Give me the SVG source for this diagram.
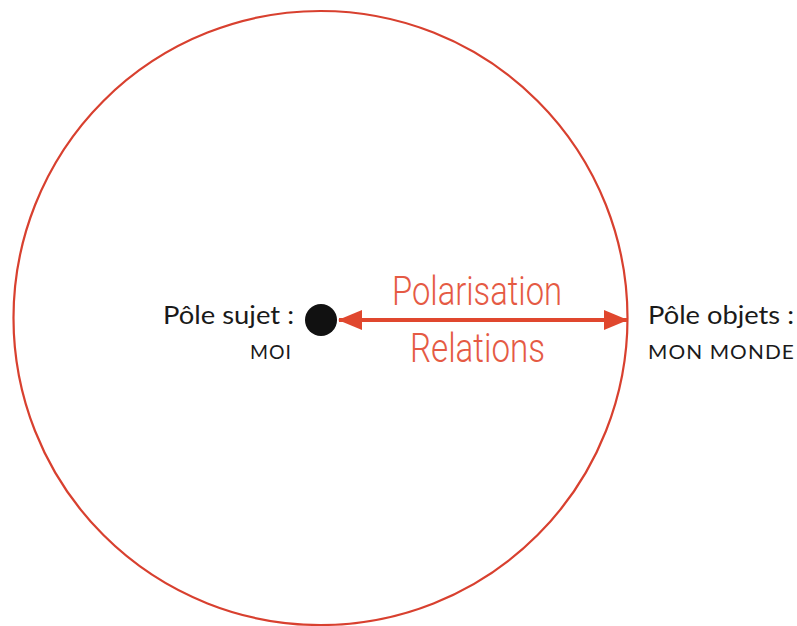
<svg xmlns="http://www.w3.org/2000/svg" width="797" height="626" viewBox="0 0 797 626">
  <style>
    .ring { fill: none; stroke: #d8402f; stroke-width: 2.2; }
    .link { stroke: #e0472e; stroke-width: 4; fill: none; }
    .red { fill: #e55a44; font-family: Roboto, "Liberation Sans", Arial, sans-serif; font-weight: 300; font-size: 41px; }
    .label { fill: #1a1a1a; font-family: Lato, "Open Sans", sans-serif; font-size: 25px; }
    .caps { fill: #1a1a1a; font-family: Lato, "Open Sans", sans-serif; font-size: 19px; letter-spacing: 1px; }
  </style>
  <defs>
    <marker id="head" viewBox="0 0 24 20" refX="23" refY="10" markerWidth="24" markerHeight="20" markerUnits="userSpaceOnUse" orient="auto-start-reverse">
      <path d="M0,0 L24,10 L0,20 Z" fill="#e0472e"/>
    </marker>
  </defs>
  <rect width="797" height="626" fill="#ffffff"/>

  <g id="world">
    <circle class="ring" cx="320.5" cy="318" r="307"/>
  </g>

  <g id="subject">
    <circle cx="321" cy="320" r="16" fill="#111111"/>
    <text class="label" x="163" y="324" textLength="131" lengthAdjust="spacingAndGlyphs">Pôle sujet :</text>
    <text class="caps" x="250" y="359" textLength="42" lengthAdjust="spacingAndGlyphs">MOI</text>
  </g>

  <g id="objects">
    <text class="label" x="648" y="324" textLength="146" lengthAdjust="spacingAndGlyphs">Pôle objets :</text>
    <text class="caps" x="648" y="359" textLength="147" lengthAdjust="spacingAndGlyphs">MON MONDE</text>
  </g>

  <g id="connectors">
    <line class="link" x1="339" y1="320" x2="627" y2="320" marker-start="url(#head)" marker-end="url(#head)"/>
    <text class="red" x="392" y="305" textLength="170" lengthAdjust="spacingAndGlyphs">Polarisation</text>
    <text class="red" x="410" y="362" textLength="135" lengthAdjust="spacingAndGlyphs">Relations</text>
  </g>
</svg>
